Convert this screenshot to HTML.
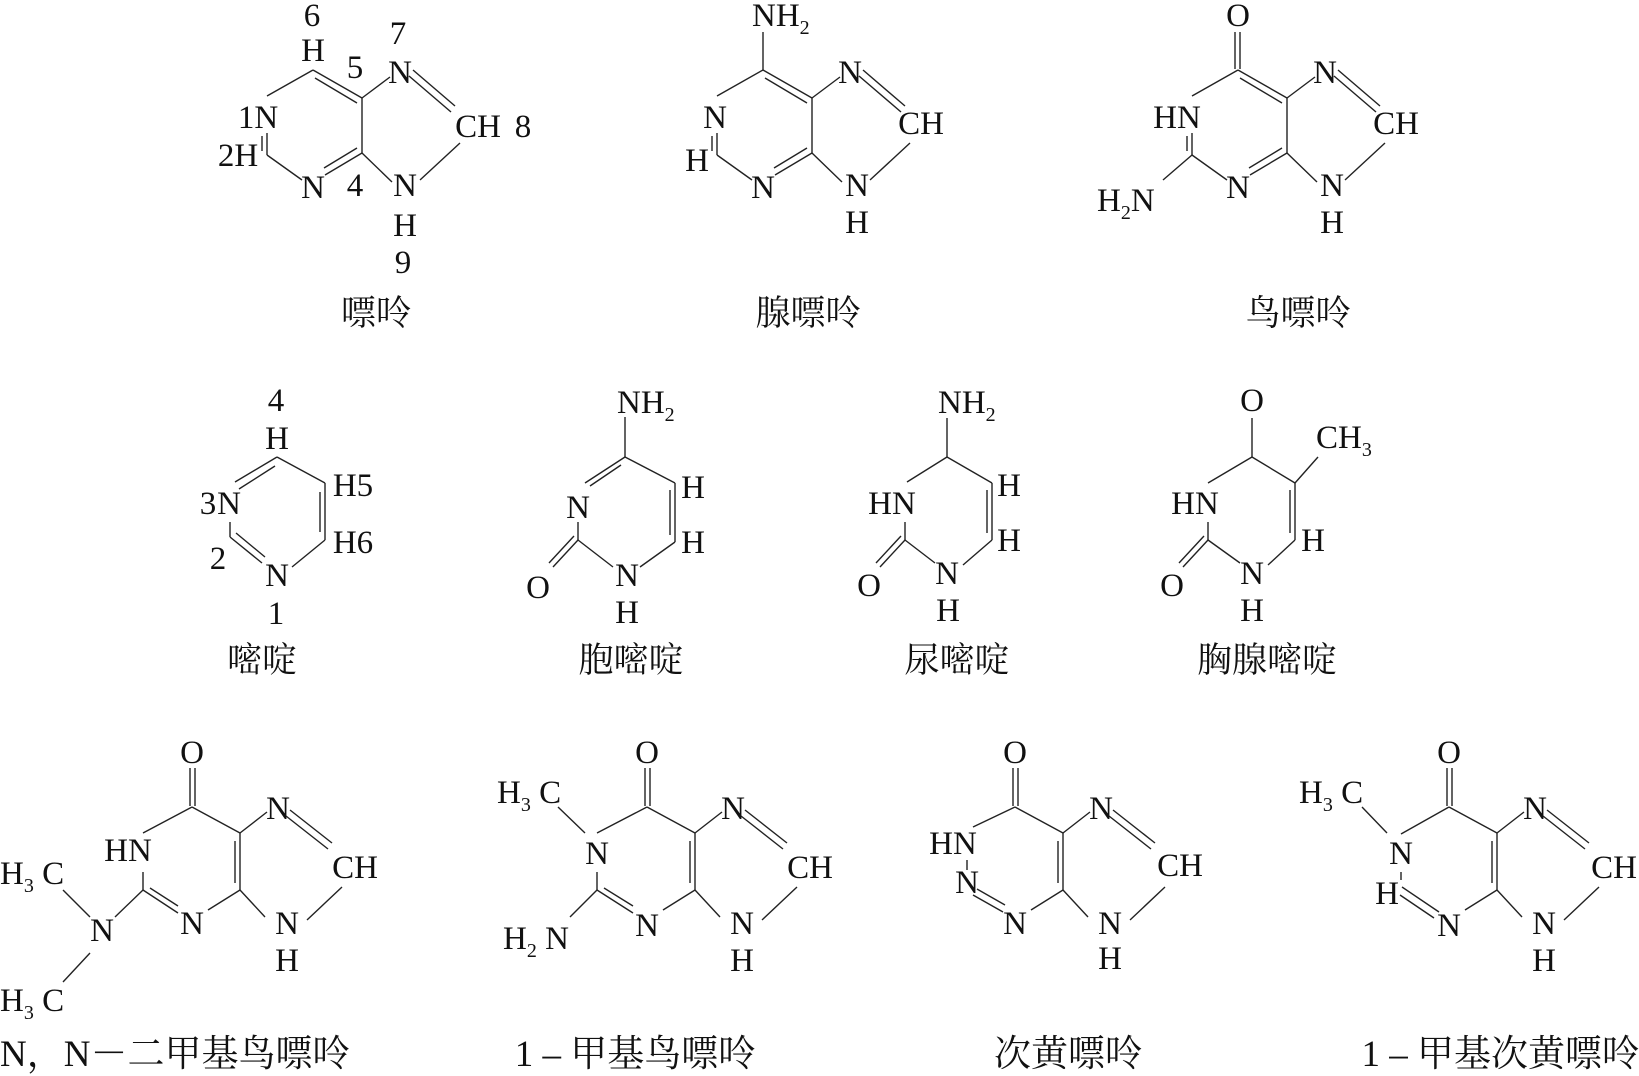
<!DOCTYPE html>
<html><head><meta charset="utf-8"><style>
html,body{margin:0;padding:0;background:#fff;}
svg{display:block;}
text{font-family:"Liberation Serif","Noto Serif CJK SC",serif;font-size:33px;fill:#111;}
.c{text-anchor:middle;}
.s{font-size:20px;}
.lb{font-size:35px;}
.lb2{font-size:37px;}
line{stroke:#222;stroke-width:1.4;}
</style></head><body>
<svg width="1639" height="1076" viewBox="0 0 1639 1076" xmlns="http://www.w3.org/2000/svg">
<defs>
<g id="pur">
<line x1="313" y1="70" x2="267" y2="96"/>
<line x1="313" y1="70" x2="362" y2="98"/>
<line x1="315" y1="78" x2="357" y2="103"/>
<line x1="362" y1="98" x2="390" y2="77"/>
<line x1="362" y1="98" x2="362" y2="153"/>
<line x1="413" y1="70" x2="455" y2="106"/>
<line x1="409" y1="76" x2="451" y2="112"/>
<line x1="460" y1="143" x2="420" y2="180"/>
<line x1="362" y1="153" x2="392" y2="182"/>
<line x1="362" y1="153" x2="325" y2="175"/>
<line x1="357" y1="148" x2="324" y2="168"/>
<line x1="302" y1="180" x2="267" y2="155"/>
<line x1="267" y1="133" x2="267" y2="155"/>
<line x1="262" y1="136" x2="262" y2="151"/>
</g>
<g id="bot">
<line x1="190" y1="768" x2="190" y2="806"/>
<line x1="195" y1="768" x2="195" y2="806"/>
<line x1="192" y1="807" x2="240" y2="833"/>
<line x1="240" y1="833" x2="240" y2="890"/>
<line x1="235" y1="841" x2="235" y2="883"/>
<line x1="240" y1="833" x2="267" y2="812"/>
<line x1="290" y1="810" x2="332" y2="843"/>
<line x1="286" y1="816" x2="328" y2="849"/>
<line x1="342" y1="887" x2="307" y2="920"/>
<line x1="240" y1="890" x2="265" y2="917"/>
<line x1="240" y1="890" x2="208" y2="910"/>
</g>
</defs>

<!-- Purine -->
<use href="#pur"/>
<text class="c" x="312" y="26">6</text>
<text class="c" x="313" y="61">H</text>
<text class="c" x="355" y="78">5</text>
<text class="c" x="398" y="44">7</text>
<text class="c" x="400" y="83">N</text>
<text class="c" x="258" y="128">1N</text>
<text class="c" x="238" y="166">2H</text>
<text class="c" x="478" y="137">CH</text>
<text class="c" x="523" y="137">8</text>
<text class="c" x="313" y="198">N</text>
<text class="c" x="355" y="196">4</text>
<text class="c" x="405" y="196">N</text>
<text class="c" x="405" y="236">H</text>
<text class="c" x="403" y="273">9</text>
<text class="c lb" x="376" y="325">嘌呤</text>

<!-- Adenine -->
<use href="#pur" transform="translate(450,0)"/>
<line x1="763" y1="70" x2="763" y2="32"/>
<text x="752" y="26">NH<tspan class="s" dy="8">2</tspan></text>
<text class="c" x="715" y="128">N</text>
<text class="c" x="697" y="171">H</text>
<text class="c" x="763" y="198">N</text>
<text class="c" x="850" y="83">N</text>
<text class="c" x="921" y="134">CH</text>
<text class="c" x="857" y="196">N</text>
<text class="c" x="857" y="233">H</text>
<text class="c lb" x="808" y="325">腺嘌呤</text>

<!-- Guanine -->
<use href="#pur" transform="translate(925,0)"/>
<line x1="1235" y1="32" x2="1235" y2="69"/>
<line x1="1240" y1="32" x2="1240" y2="69"/>
<line x1="1192" y1="155" x2="1163" y2="180"/>
<text class="c" x="1238" y="26">O</text>
<text class="c" x="1177" y="128">HN</text>
<text x="1097" y="211">H<tspan class="s" dy="8">2</tspan><tspan dy="-8">N</tspan></text>
<text class="c" x="1238" y="198">N</text>
<text class="c" x="1325" y="83">N</text>
<text class="c" x="1396" y="134">CH</text>
<text class="c" x="1332" y="196">N</text>
<text class="c" x="1332" y="233">H</text>
<text class="c lb" x="1298" y="325">鸟嘌呤</text>

<!-- Pyrimidine -->
<line x1="277" y1="457" x2="325" y2="483"/>
<line x1="325" y1="483" x2="325" y2="540"/>
<line x1="320" y1="492" x2="320" y2="532"/>
<line x1="325" y1="540" x2="292" y2="567"/>
<line x1="262" y1="563" x2="230" y2="537"/>
<line x1="265" y1="557" x2="236" y2="533"/>
<line x1="230" y1="537" x2="230" y2="522"/>
<line x1="235" y1="482" x2="277" y2="457"/>
<line x1="239" y1="489" x2="275" y2="466"/>
<text class="c" x="276" y="411">4</text>
<text class="c" x="277" y="449">H</text>
<text class="c" x="208" y="514">3</text>
<text class="c" x="229" y="514">N</text>
<text class="c" x="218" y="569">2</text>
<text class="c" x="277" y="586">N</text>
<text class="c" x="276" y="624">1</text>
<text class="c" x="353" y="496">H5</text>
<text class="c" x="353" y="553">H6</text>
<text class="c lb" x="262" y="672">嘧啶</text>

<!-- Cytosine -->
<line x1="625" y1="457" x2="625" y2="417"/>
<line x1="625" y1="457" x2="585" y2="483"/>
<line x1="621" y1="465" x2="590" y2="486"/>
<line x1="578" y1="522" x2="578" y2="540"/>
<line x1="578" y1="540" x2="553" y2="567"/>
<line x1="574" y1="536" x2="549" y2="563"/>
<line x1="578" y1="540" x2="613" y2="567"/>
<line x1="640" y1="567" x2="675" y2="542"/>
<line x1="675" y1="542" x2="675" y2="483"/>
<line x1="670" y1="490" x2="670" y2="535"/>
<line x1="675" y1="483" x2="625" y2="457"/>
<text x="617" y="413">NH<tspan class="s" dy="8">2</tspan></text>
<text class="c" x="578" y="518">N</text>
<text class="c" x="538" y="598">O</text>
<text class="c" x="627" y="586">N</text>
<text class="c" x="627" y="623">H</text>
<text class="c" x="693" y="498">H</text>
<text class="c" x="693" y="553">H</text>
<text class="c lb" x="631" y="672">胞嘧啶</text>

<!-- Uracil row item -->
<line x1="947" y1="457" x2="947" y2="418"/>
<line x1="947" y1="457" x2="907" y2="482"/>
<line x1="905" y1="522" x2="905" y2="540"/>
<line x1="905" y1="540" x2="880" y2="567"/>
<line x1="901" y1="536" x2="876" y2="563"/>
<line x1="905" y1="540" x2="935" y2="563"/>
<line x1="963" y1="565" x2="992" y2="540"/>
<line x1="992" y1="540" x2="992" y2="483"/>
<line x1="987" y1="490" x2="987" y2="533"/>
<line x1="992" y1="483" x2="947" y2="457"/>
<text x="938" y="413">NH<tspan class="s" dy="8">2</tspan></text>
<text class="c" x="892" y="514">HN</text>
<text class="c" x="869" y="596">O</text>
<text class="c" x="947" y="584">N</text>
<text class="c" x="948" y="621">H</text>
<text class="c" x="1009" y="496">H</text>
<text class="c" x="1009" y="551">H</text>
<text class="c lb" x="957" y="672">尿嘧啶</text>

<!-- Thymine -->
<line x1="1252" y1="457" x2="1252" y2="418"/>
<line x1="1252" y1="457" x2="1208" y2="483"/>
<line x1="1208" y1="522" x2="1208" y2="540"/>
<line x1="1208" y1="540" x2="1183" y2="567"/>
<line x1="1204" y1="536" x2="1179" y2="563"/>
<line x1="1208" y1="540" x2="1240" y2="563"/>
<line x1="1268" y1="565" x2="1295" y2="540"/>
<line x1="1295" y1="540" x2="1295" y2="483"/>
<line x1="1290" y1="490" x2="1290" y2="533"/>
<line x1="1295" y1="483" x2="1252" y2="457"/>
<line x1="1295" y1="483" x2="1318" y2="457"/>
<text class="c" x="1252" y="411">O</text>
<text x="1316" y="448">CH<tspan class="s" dy="8">3</tspan></text>
<text class="c" x="1195" y="514">HN</text>
<text class="c" x="1172" y="596">O</text>
<text class="c" x="1252" y="584">N</text>
<text class="c" x="1252" y="621">H</text>
<text class="c" x="1313" y="551">H</text>
<text class="c lb" x="1267" y="672">胸腺嘧啶</text>

<!-- N,N-dimethylguanine -->
<use href="#bot"/>
<line x1="192" y1="807" x2="143" y2="833"/>
<line x1="178" y1="913" x2="143" y2="890"/>
<line x1="178" y1="906" x2="150" y2="888"/>
<line x1="143" y1="890" x2="143" y2="872"/>
<line x1="143" y1="890" x2="115" y2="917"/>
<line x1="90" y1="917" x2="63" y2="890"/>
<line x1="90" y1="953" x2="63" y2="982"/>
<text class="c" x="192" y="763">O</text>
<text class="c" x="128" y="861">HN</text>
<text class="c" x="278" y="819">N</text>
<text class="c" x="355" y="878">CH</text>
<text class="c" x="287" y="934">N</text>
<text class="c" x="287" y="971">H</text>
<text class="c" x="192" y="934">N</text>
<text class="c" x="102" y="941">N</text>
<text x="0" y="884">H<tspan class="s" dy="8">3</tspan><tspan dy="-8"> C</tspan></text>
<text x="0" y="1011">H<tspan class="s" dy="8">3</tspan><tspan dy="-8"> C</tspan></text>
<text class="lb2" x="0" y="1066">N，N－二甲基鸟嘌呤</text>

<!-- 1-methylguanine -->
<use href="#bot" transform="translate(455,0)"/>
<line x1="647" y1="807" x2="597" y2="833"/>
<line x1="558" y1="807" x2="585" y2="833"/>
<line x1="633" y1="913" x2="597" y2="890"/>
<line x1="633" y1="906" x2="604" y2="888"/>
<line x1="597" y1="890" x2="597" y2="872"/>
<line x1="597" y1="890" x2="570" y2="917"/>
<text class="c" x="647" y="763">O</text>
<text x="497" y="803">H<tspan class="s" dy="8">3</tspan><tspan dy="-8"> C</tspan></text>
<text class="c" x="597" y="864">N</text>
<text x="503" y="949">H<tspan class="s" dy="8">2</tspan><tspan dy="-8"> N</tspan></text>
<text class="c" x="647" y="936">N</text>
<text class="c" x="733" y="819">N</text>
<text class="c" x="810" y="878">CH</text>
<text class="c" x="742" y="934">N</text>
<text class="c" x="742" y="971">H</text>
<text class="c lb2" x="635" y="1066">1 – 甲基鸟嘌呤</text>

<!-- Hypoxanthine -->
<use href="#bot" transform="translate(823,0)"/>
<line x1="1015" y1="807" x2="973" y2="827"/>
<line x1="967" y1="860" x2="967" y2="870"/>
<line x1="973" y1="895" x2="1003" y2="912"/>
<line x1="977" y1="889" x2="1005" y2="905"/>
<text class="c" x="1015" y="763">O</text>
<text class="c" x="953" y="854">HN</text>
<text class="c" x="967" y="893">N</text>
<text class="c" x="1015" y="934">N</text>
<text class="c" x="1101" y="819">N</text>
<text class="c" x="1180" y="876">CH</text>
<text class="c" x="1110" y="934">N</text>
<text class="c" x="1110" y="969">H</text>
<text class="c lb2" x="1068" y="1066">次黄嘌呤</text>

<!-- 1-methylhypoxanthine -->
<use href="#bot" transform="translate(1257,0)"/>
<line x1="1449" y1="807" x2="1401" y2="834"/>
<line x1="1362" y1="807" x2="1387" y2="833"/>
<line x1="1401" y1="872" x2="1401" y2="880"/>
<line x1="1402" y1="887" x2="1439" y2="912"/>
<line x1="1400" y1="895" x2="1434" y2="918"/>
<text class="c" x="1449" y="763">O</text>
<text x="1299" y="803">H<tspan class="s" dy="8">3</tspan><tspan dy="-8"> C</tspan></text>
<text class="c" x="1401" y="864">N</text>
<text class="c" x="1387" y="904">H</text>
<text class="c" x="1449" y="936">N</text>
<text class="c" x="1535" y="819">N</text>
<text class="c" x="1614" y="878">CH</text>
<text class="c" x="1544" y="934">N</text>
<text class="c" x="1544" y="971">H</text>
<text class="lb2" x="1639" y="1066" text-anchor="end">1 – 甲基次黄嘌呤</text>
</svg>
</body></html>
